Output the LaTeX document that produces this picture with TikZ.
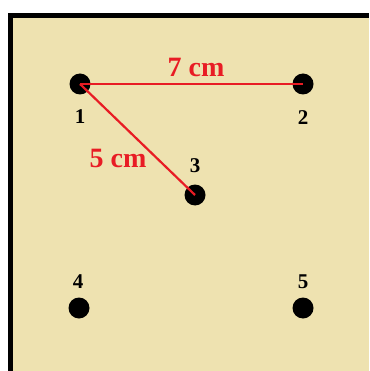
\documentclass[tikz,border=0pt]{standalone}
\usepackage{fontspec}
\setmainfont{Liberation Serif}
\definecolor{beige}{RGB}{238,226,176}
\definecolor{myred}{RGB}{232,28,36}
\begin{document}
\begin{tikzpicture}[x=1pt,y=-1pt,
  dot/.style={circle,fill=black,inner sep=0pt,minimum size=21pt},
  num/.style={font=\fontsize{21}{21}\selectfont\bfseries,text=black,inner sep=0pt},
  len/.style={font=\fontsize{28}{28}\selectfont\bfseries,text=myred,inner sep=0pt},
  seg/.style={draw=myred,line width=2.2pt}]
\useasboundingbox (0,0) rectangle (369,371);
\fill[white] (0,0) rectangle (369,371);
\fill[beige] (8,13) rectangle (369,371);
\draw[line width=5pt] (10.5,371) -- (10.5,15.5) -- (369,15.5);
\node[dot] (p1) at (80,84) {};
\node[dot] (p2) at (303,84) {};
\node[dot] (p3) at (195,195) {};
\node[dot] (p4) at (79,308) {};
\node[dot] (p5) at (303,308) {};
\draw[seg] (p1.center) -- (p2.center);
\draw[seg] (p1.center) -- (p3.center);
\node[num] (l1) at (80,117) {1};
\node[num] (l2) at (303,118) {2};
\node[num] (l3) at (195,166) {3};
\node[num] (l4) at (78,282) {4};
\node[num] (l5) at (303,282) {5};
\node[len] (d12) at (196,67) {7 cm};
\node[len] (d13) at (118,158) {5 cm};
\end{tikzpicture}
\end{document}
